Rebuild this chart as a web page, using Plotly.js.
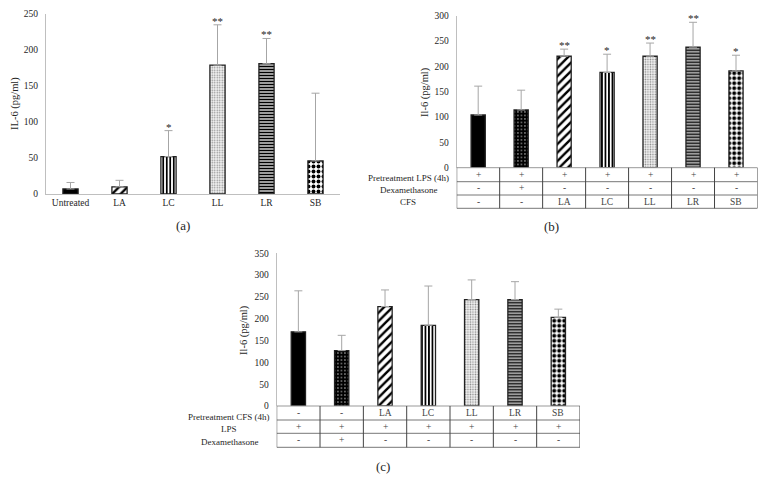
<!DOCTYPE html>
<html>
<head>
<meta charset="utf-8">
<script src="https://cdn.plot.ly/plotly-3.0.1.min.js"></script>
<style>html,body{margin:0;padding:0;background:#fff}#chart{width:768px;height:495px}</style>
</head>
<body>
<div id="chart"></div>
<script>
// ---- Data ----
const catsA = ['Untreated', 'LA', 'LC', 'LL', 'LR', 'SB'];
const meanA = [7, 10, 52, 179, 181, 46];
const sdA = [9, 9, 36, 56, 35, 94];
const sigA = ['', '', '*', '**', '**', ''];

const groupsB = ['Control', 'Dexamethasone', 'LA', 'LC', 'LL', 'LR', 'SB'];
const meanB = [104, 114, 220, 188, 220, 238, 191];
const sdB = [57, 39, 14, 36, 26, 49, 31];
const sigB = ['', '', '**', '*', '**', '**', '*'];
const rowLabelsB = ['Pretreatment LPS (4h)', 'Dexamethasone', 'CFS'];
const lpsB = ['+', '+', '+', '+', '+', '+', '+'];
const dexB = ['-', '+', '-', '-', '-', '-', '-'];
const cfsB = ['-', '-', 'LA', 'LC', 'LL', 'LR', 'SB'];

const groupsC = ['Control', 'Dexamethasone', 'LA', 'LC', 'LL', 'LR', 'SB'];
const meanC = [170, 127, 228, 185, 244, 244, 203];
const sdC = [94, 35, 38, 90, 45, 41, 19];
const rowLabelsC = ['Pretreatment CFS (4h)', 'LPS', 'Dexamethasone'];
const cfsC = ['-', '-', 'LA', 'LC', 'LL', 'LR', 'SB'];
const lpsC = ['+', '+', '+', '+', '+', '+', '+'];
const dexC = ['-', '+', '-', '-', '-', '-', '-'];

// ---- Styles ----
const W = 768, H = 495;
const px = v => v / W;
const py = v => 1 - v / H;
const FONT = 'Liberation Serif, Times New Roman, serif';
const TXT = '#262626';

const patA = {
  shape: ['', '/', '|', '.', '-', '.'],
  fgcolor: ['#000', '#000', '#000', '#8a8a8a', '#000', '#000'],
  bgcolor: ['#000', '#fff', '#fff', '#f4f4f4', '#d0d0d0', '#fff'],
  size: [8, 6, 3.5, 2.5, 3, 5],
  solidity: [0.3, 0.4, 0.5, 0.3, 0.5, 0.5]
};
const patBC = {
  shape: ['', '.', '/', '|', '.', '-', '.'],
  fgcolor: ['#000', '#fff', '#000', '#000', '#8a8a8a', '#000', '#000'],
  bgcolor: ['#000', '#000', '#fff', '#fff', '#f4f4f4', '#d0d0d0', '#fff'],
  size: [8, 3.5, 6, 3.5, 2.5, 3, 5],
  solidity: [0.3, 0.1, 0.4, 0.5, 0.3, 0.5, 0.5]
};

function errBar(sd) {
  return {type: 'data', symmetric: false, array: sd, arrayminus: sd.map(() => 0),
          color: '#a6a6a6', thickness: 1, width: 4};
}

const traces = [
  {type: 'bar', x: catsA, y: meanA, xaxis: 'x', yaxis: 'y', width: 0.31,
   marker: {color: '#000', pattern: patA, line: {color: '#222', width: 1.3}},
   error_y: errBar(sdA), hoverinfo: 'skip'},
  {type: 'bar', x: groupsB, y: meanB, xaxis: 'x2', yaxis: 'y2', width: 0.33,
   marker: {color: '#000', pattern: patBC, line: {color: '#222', width: 1.3}},
   error_y: errBar(sdB), hoverinfo: 'skip'},
  {type: 'bar', x: groupsC, y: meanC, xaxis: 'x3', yaxis: 'y3', width: 0.33,
   marker: {color: '#000', pattern: patBC, line: {color: '#222', width: 1.3}},
   error_y: errBar(sdC), hoverinfo: 'skip'}
];

const tickFont = {family: FONT, size: 9.5, color: TXT};
function yax(dom, range, anchor) {
  return {domain: dom, range: range, dtick: 50, anchor: anchor, showline: true,
          linecolor: '#bfbfbf', linewidth: 1, showgrid: false, zeroline: false,
          ticks: '', tickfont: tickFont, ticklabelstandoff: 5, fixedrange: true};
}

const annotations = [];
const shapes = [];

// significance marks
function addSig(sig, mean, sd, xref, yref) {
  sig.forEach((s, i) => {
    if (!s) return;
    annotations.push({xref: xref, yref: yref, x: i, y: mean[i] + sd[i], text: s,
      showarrow: false, yanchor: 'bottom', yshift: -4,
      font: {family: FONT, size: 11, color: TXT}});
  });
}
addSig(sigA, meanA, sdA, 'x', 'y');
addSig(sigB, meanB, sdB, 'x2', 'y2');

// table under panel
function addTable(xref, n, rowsY, labelX, labelY, labels, rows) {
  rowsY.forEach((yy, k) => {
    shapes.push({type: 'line', xref: xref, yref: 'paper', x0: -0.5, x1: n - 0.5,
      y0: py(yy), y1: py(yy), line: {color: k === 0 ? '#999' : '#777', width: 1}});
  });
  for (let i = 0; i <= n; i++) {
    shapes.push({type: 'line', xref: xref, yref: 'paper', x0: i - 0.5, x1: i - 0.5,
      y0: py(rowsY[0]), y1: py(rowsY[rowsY.length - 1]), line: {color: '#444', width: 1}});
  }
  rows.forEach((row, r) => {
    const yc = (rowsY[r] + rowsY[r + 1]) / 2;
    annotations.push({xref: 'paper', yref: 'paper', x: px(labelX), y: py(labelY[r]),
      text: labels[r], showarrow: false, xanchor: 'center', yanchor: 'middle',
      font: {family: FONT, size: 9, color: TXT}});
    row.forEach((t, i) => {
      annotations.push({xref: xref, yref: 'paper', x: i, y: py(yc), text: t,
        showarrow: false, xanchor: 'center', yanchor: 'middle',
        font: {family: FONT, size: 9.5, color: '#444'}});
    });
  });
}
addTable('x2', groupsB.length, [167.7, 181.7, 195, 208.3], 408, [177.5, 189.5, 201.7], rowLabelsB, [lpsB, dexB, cfsB]);
addTable('x3', groupsC.length, [406, 420, 433.3, 447.3], 229, [417, 429.3, 441.7], rowLabelsC, [cfsC, lpsC, dexC]);

// y-axis titles
[['IL-6 (pg/ml)', 15, 104], ['Il-6 (pg/ml)', 425, 92], ['Il-6 (pg/ml)', 244, 330]].forEach(t => {
  annotations.push({xref: 'paper', yref: 'paper', x: px(t[1]), y: py(t[2]), text: t[0],
    textangle: -90, showarrow: false, xanchor: 'center', yanchor: 'middle',
    font: {family: FONT, size: 10.5, color: TXT}});
});
// panel labels
[['(a)', 183, 225], ['(b)', 551, 226], ['(c)', 383, 466]].forEach(t => {
  annotations.push({xref: 'paper', yref: 'paper', x: px(t[1]), y: py(t[2]), text: t[0],
    showarrow: false, xanchor: 'center', yanchor: 'middle',
    font: {family: FONT, size: 13, color: TXT}});
});

const layout = {
  width: W, height: H, margin: {l: 0, r: 0, t: 0, b: 0},
  paper_bgcolor: '#fff', plot_bgcolor: 'rgba(0,0,0,0)', showlegend: false,
  font: {family: FONT},
  xaxis: {domain: [px(46), px(340)], anchor: 'y', type: 'category', range: [-0.5, 5.5],
          showline: true, linecolor: '#bfbfbf', ticks: '', tickfont: tickFont, fixedrange: true},
  yaxis: yax([py(194), py(14)], [0, 250], 'x'),
  xaxis2: {domain: [px(456.7), px(757.5)], anchor: 'y2', type: 'category', range: [-0.5, 6.5],
           showline: false, showticklabels: false, ticks: '', fixedrange: true},
  yaxis2: yax([py(167.7), py(15.7)], [0, 300], 'x2'),
  xaxis3: {domain: [px(276.7), px(580)], anchor: 'y3', type: 'category', range: [-0.5, 6.5],
           showline: false, showticklabels: false, ticks: '', fixedrange: true},
  yaxis3: yax([py(406), py(253.3)], [0, 350], 'x3'),
  shapes: shapes,
  annotations: annotations
};

Plotly.newPlot('chart', traces, layout, {staticPlot: true, displayModeBar: false});
</script>
</body>
</html>
